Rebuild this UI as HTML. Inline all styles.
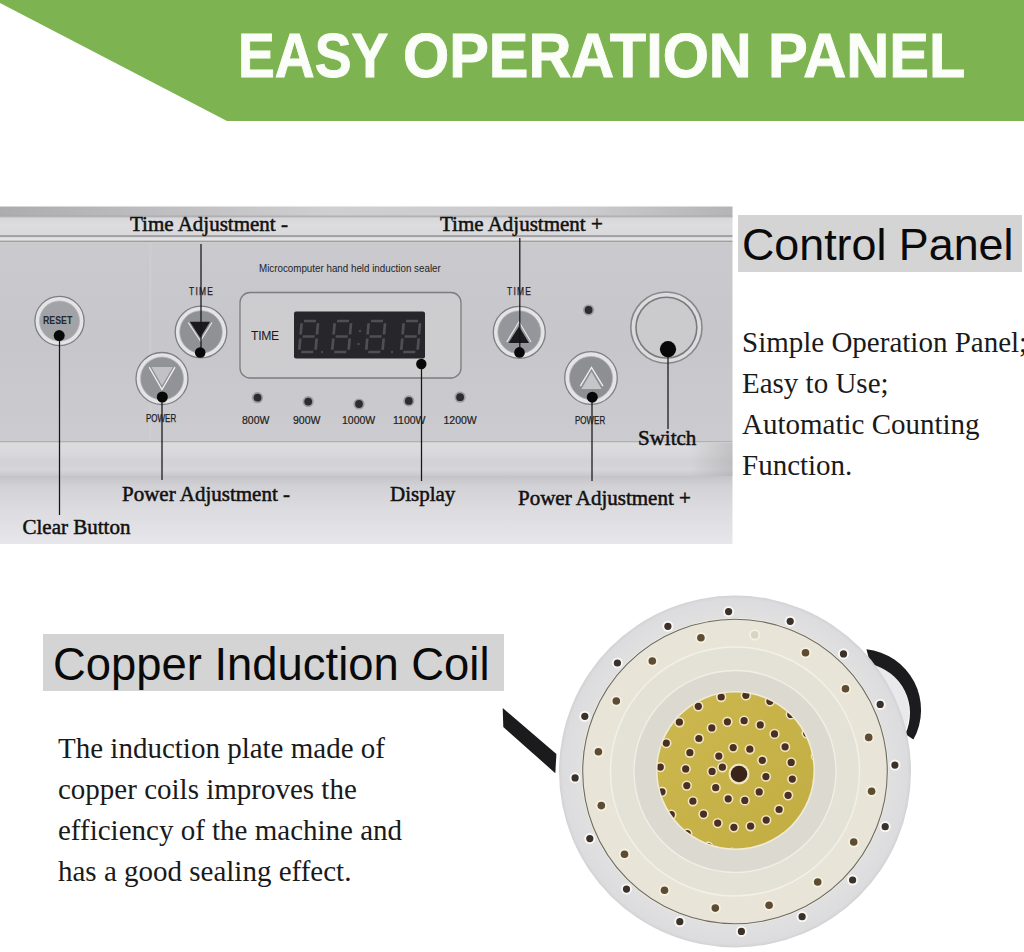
<!DOCTYPE html>
<html><head><meta charset="utf-8">
<style>
html,body{margin:0;padding:0;background:#fff;}
body{width:1024px;height:952px;position:relative;overflow:hidden;}
.a{position:absolute;white-space:nowrap;}
.serif{font-family:"Liberation Serif",serif;color:#111;}
.sans{font-family:"Liberation Sans",sans-serif;}
.lbl{font-size:21px;line-height:21px;-webkit-text-stroke:0.5px #111;}
.body{font-size:29px;line-height:41px;color:#1a1a1a;}
.hbox{background:#d4d4d4;}
.ttl{top:24.2px;font-size:63px;line-height:63px;font-weight:bold;color:#fbfdf8;transform-origin:0 0;-webkit-text-stroke:0.9px #fbfdf8;}
</style></head>
<body>
<!-- green banner -->
<svg class="a" style="left:0;top:0" width="1024" height="125">
  <polygon points="0,0 1024,0 1024,121 227,121 0,3" fill="#7db451"/>
</svg>
<div class="a sans ttl" style="left:237.6px;transform:scaleX(0.877);">EASY</div>
<div class="a sans ttl" style="left:402.6px;transform:scaleX(0.943);">OPERATION</div>
<div class="a sans ttl" style="left:768.2px;transform:scaleX(0.945);">PANEL</div>

<!-- control panel photo -->
<svg class="a" style="left:0;top:0" width="1024" height="560">
  <defs>
    <linearGradient id="gTop" x1="0" y1="0" x2="1" y2="0">
      <stop offset="0" stop-color="#acacae"/><stop offset="0.2" stop-color="#bdbdbf"/><stop offset="0.45" stop-color="#cfcfd1"/><stop offset="0.8" stop-color="#cbcbcd"/><stop offset="1" stop-color="#b4b4b6"/>
    </linearGradient>
    <linearGradient id="gLight" x1="0" y1="0" x2="0" y2="1">
      <stop offset="0" stop-color="#d6d6d8"/><stop offset="0.5" stop-color="#dddddf"/><stop offset="1" stop-color="#d9d9db"/>
    </linearGradient>
    <linearGradient id="gBody" x1="0" y1="0" x2="0" y2="1">
      <stop offset="0" stop-color="#cacace"/><stop offset="0.5" stop-color="#c7c7cb"/><stop offset="1" stop-color="#cccbcf"/>
    </linearGradient>
    <linearGradient id="gStrip" x1="0" y1="0" x2="0" y2="1">
      <stop offset="0" stop-color="#dcdbde"/><stop offset="0.3" stop-color="#d9d8db"/><stop offset="0.55" stop-color="#d2d1d5"/>
      <stop offset="0.8" stop-color="#d6d5d9"/><stop offset="1" stop-color="#c9c8cc"/>
    </linearGradient>
    <linearGradient id="gBase" x1="0" y1="0" x2="0" y2="1">
      <stop offset="0" stop-color="#c4c3c7"/><stop offset="0.15" stop-color="#d2d1d5"/><stop offset="0.5" stop-color="#dcdbdf"/><stop offset="1" stop-color="#e7e6ea"/>
    </linearGradient>
    <g id="seg8" fill="none" stroke="#504f55" stroke-width="2.7">
      <path d="M4,0 H16 M4,15.5 H16 M4,31 H16 M1.8,2.2 V13.5 M1.8,17.5 V28.8 M18.2,2.2 V13.5 M18.2,17.5 V28.8"/>
    </g>
  </defs>
  <rect x="0" y="206.5" width="732.5" height="9.5" fill="url(#gTop)"/>
  <rect x="0" y="216" width="732.5" height="19" fill="url(#gLight)"/>
  <rect x="0" y="215.5" width="732.5" height="1.8" fill="#a8a8aa" opacity="0.8"/>
  <rect x="0" y="235" width="732.5" height="2.5" fill="#a3a3a5"/>
  <rect x="0" y="237.5" width="732.5" height="3" fill="#e2e2e4"/>
  <rect x="0" y="240.5" width="732.5" height="2" fill="#9f9fa1"/>
  <rect x="0" y="242.5" width="732.5" height="198.5" fill="url(#gBody)"/>
  <rect x="149" y="242.5" width="2.5" height="198.5" fill="#d4d4d6" opacity="0.35"/>
  <rect x="0" y="441" width="732.5" height="1.6" fill="#b0afb2"/>
  <rect x="0" y="443" width="732.5" height="33" fill="url(#gStrip)"/>
  <rect x="0" y="476" width="732.5" height="68" fill="url(#gBase)"/>
  <linearGradient id="gEdge" x1="0" y1="0" x2="1" y2="0"><stop offset="0" stop-color="#a8a8aa" stop-opacity="0"/><stop offset="1" stop-color="#a8a8aa" stop-opacity="0.5"/></linearGradient>
  <rect x="690" y="443" width="42.5" height="33" fill="url(#gEdge)"/>

  <!-- display box -->
  <rect x="240" y="292.5" width="221" height="85.5" rx="10" fill="#cdcdcf" stroke="#7c7c7e" stroke-width="1.3"/>
  <rect x="294" y="311.5" width="131" height="47" rx="2" fill="#27262b"/>
  <use href="#seg8" transform="translate(300,321) skewX(-5)"/>
  <use href="#seg8" transform="translate(333,321) skewX(-5)"/>
  <use href="#seg8" transform="translate(367,321) skewX(-5)"/>
  <use href="#seg8" transform="translate(402,321) skewX(-5)"/>
  <g fill="#4a494e"><circle cx="360" cy="331" r="1.3"/><circle cx="358.5" cy="344" r="1.3"/><circle cx="322" cy="352" r="1.2"/><circle cx="392" cy="352" r="1.2"/></g>

  <!-- LEDs -->
  <g><circle cx="257.5" cy="397.7" r="5.6" fill="#76767c" opacity="0.55"/><circle cx="257.5" cy="397.7" r="3.9" fill="#2c2c32"/><circle cx="308.2" cy="401.6" r="5.6" fill="#76767c" opacity="0.55"/><circle cx="308.2" cy="401.6" r="3.9" fill="#2c2c32"/><circle cx="359" cy="404" r="5.6" fill="#76767c" opacity="0.55"/><circle cx="359" cy="404" r="3.9" fill="#2c2c32"/><circle cx="408.8" cy="400.9" r="5.6" fill="#76767c" opacity="0.55"/><circle cx="408.8" cy="400.9" r="3.9" fill="#2c2c32"/><circle cx="460.1" cy="397.2" r="5.6" fill="#76767c" opacity="0.55"/><circle cx="460.1" cy="397.2" r="3.9" fill="#2c2c32"/><circle cx="588.6" cy="310" r="5.6" fill="#76767c" opacity="0.55"/><circle cx="588.6" cy="310" r="3.9" fill="#2c2c32"/></g>

  <!-- buttons -->
  <g stroke="#7f7f82" stroke-width="1.3">
    <circle cx="59.5" cy="321" r="24.6" fill="#e4e4e6"/>
    <circle cx="201" cy="332" r="25.8" fill="#e4e4e6"/>
    <circle cx="162" cy="378.5" r="26" fill="#e4e4e6"/>
    <circle cx="519.3" cy="332.3" r="26" fill="#e4e4e6"/>
    <circle cx="591" cy="378" r="26.3" fill="#e4e4e6"/>
  </g>
  <g stroke="#b5b5b8" stroke-width="0.8">
    <circle cx="59.5" cy="321" r="20" fill="#a2a3a7"/>
    <circle cx="201" cy="332" r="21.3" fill="#909195"/>
    <circle cx="162" cy="378.5" r="21.5" fill="#929397"/>
    <circle cx="519.3" cy="332.3" r="21.5" fill="#95969b"/>
    <circle cx="591" cy="378" r="21.6" fill="#8e8f93"/>
  </g>
  <!-- switch -->
  <circle cx="666.4" cy="327.6" r="35.6" fill="#dcdcde" stroke="#88888b" stroke-width="1.6"/>
  <circle cx="666.4" cy="327.6" r="30.4" fill="#cbcbcd" stroke="#7a7a7d" stroke-width="1.6"/>

  <!-- triangles -->
  <polyline points="188.2,322.5 200.4,341 212,322.5" fill="none" stroke="#e6e6e8" stroke-width="1.2"/>
  <polygon points="189.8,321.8 210,321.8 200.2,337.8" fill="#1b1b1e"/>
  <polygon points="151.5,367 172.8,367 162,385.5" fill="#c2c2c5"/><polyline points="149.2,367.2 162,389.5 175,367.2" fill="none" stroke="#f2f2f4" stroke-width="1.3"/>
  <polyline points="506.8,342 519,321.8 531,342" fill="none" stroke="#e6e6e8" stroke-width="1.2"/>
  <polygon points="519,326.5 508.5,343 529,343" fill="#1b1b1e"/>
  <polygon points="591.5,371.8 581.4,389 601.6,389" fill="#c6c6c8"/><polyline points="580.3,386.2 591.5,367.4 603,386.2" fill="none" stroke="#f2f2f4" stroke-width="1.3"/>

  <!-- annotation lines -->
  <g stroke="#151515" stroke-width="1.25">
    <line x1="59.5" y1="336" x2="59.5" y2="515"/>
    <line x1="201" y1="244" x2="201" y2="352"/>
    <line x1="162" y1="397" x2="162" y2="480"/>
    <line x1="421.5" y1="364" x2="421.5" y2="481"/>
    <line x1="519.8" y1="238" x2="519.8" y2="352"/>
    <line x1="592" y1="397" x2="592" y2="481"/>
    <line x1="668" y1="349" x2="668" y2="429"/>
  </g>
  <g fill="#080808">
    <circle cx="59.2" cy="335.6" r="5.5"/>
    <circle cx="200.2" cy="352.5" r="5.3"/>
    <circle cx="162.3" cy="397" r="5.5"/>
    <circle cx="421.3" cy="364" r="5.2"/>
    <circle cx="519.5" cy="352.4" r="5.3"/>
    <circle cx="592.3" cy="397.2" r="5.5"/>
    <circle cx="668" cy="349.2" r="8.1"/>
  </g>
</svg>
<div class="a sans" style="left:259.3px;top:261.5px;font-size:11px;line-height:12px;color:#232325;transform:scaleX(0.89);transform-origin:0 0;">Microcomputer hand held induction sealer</div>
<div class="a sans" style="left:251px;top:330.2px;font-size:12.2px;line-height:13px;color:#1a1a1c;letter-spacing:-0.3px;">TIME</div>
<div class="a sans" style="left:189px;top:285.5px;font-size:10.5px;line-height:11px;color:#1c1c1e;-webkit-text-stroke:0.25px #1c1c1e;letter-spacing:1.6px;transform:scaleX(0.8);transform-origin:0 0;">TIME</div>
<div class="a sans" style="left:507px;top:286px;font-size:10.5px;line-height:11px;color:#1c1c1e;-webkit-text-stroke:0.25px #1c1c1e;letter-spacing:1.6px;transform:scaleX(0.8);transform-origin:0 0;">TIME</div>
<div class="a sans" style="left:146px;top:413px;font-size:10.5px;line-height:11px;color:#1c1c1e;-webkit-text-stroke:0.25px #1c1c1e;transform:scaleX(0.76);transform-origin:0 0;">POWER</div>
<div class="a sans" style="left:575px;top:414.5px;font-size:10.5px;line-height:11px;color:#1c1c1e;-webkit-text-stroke:0.25px #1c1c1e;transform:scaleX(0.76);transform-origin:0 0;">POWER</div>
<div class="a sans" style="left:43px;top:315px;font-size:11px;line-height:11px;color:#25282e;font-weight:bold;transform:scaleX(0.8);transform-origin:0 0;">RESET</div>
<div class="a sans" style="left:242px;top:415px;font-size:10.5px;line-height:11px;color:#1e1e20;-webkit-text-stroke:0.2px #1e1e20;">800W</div>
<div class="a sans" style="left:293px;top:415px;font-size:10.5px;line-height:11px;color:#1e1e20;-webkit-text-stroke:0.2px #1e1e20;">900W</div>
<div class="a sans" style="left:342px;top:415px;font-size:10.5px;line-height:11px;color:#1e1e20;-webkit-text-stroke:0.2px #1e1e20;">1000W</div>
<div class="a sans" style="left:393px;top:415px;font-size:10.5px;line-height:11px;color:#1e1e20;-webkit-text-stroke:0.2px #1e1e20;">1100W</div>
<div class="a sans" style="left:443.5px;top:415px;font-size:10.5px;line-height:11px;color:#1e1e20;-webkit-text-stroke:0.2px #1e1e20;">1200W</div>

<div class="a serif lbl" style="left:130px;top:214px;">Time Adjustment -</div>
<div class="a serif lbl" style="left:440px;top:214px;">Time Adjustment +</div>
<div class="a serif lbl" style="left:122px;top:484px;">Power Adjustment -</div>
<div class="a serif lbl" style="left:390px;top:483.5px;">Display</div>
<div class="a serif lbl" style="left:518px;top:488px;">Power Adjustment +</div>
<div class="a serif lbl" style="left:22.5px;top:516.5px;">Clear Button</div>
<div class="a serif lbl" style="left:638px;top:427.8px;">Switch</div>

<!-- right text -->
<div class="a hbox" style="left:738px;top:215px;width:284px;height:57px;"></div>
<div class="a sans" style="left:742px;top:218.6px;font-size:44.8px;line-height:50px;color:#0a0a0a;">Control Panel</div>
<div class="a serif body" style="left:742px;top:322px;">Simple Operation Panel;<br>Easy to Use;<br>Automatic Counting<br>Function.</div>

<!-- coil -->
<svg class="a" style="left:0;top:0" width="1024" height="952">
<defs>
<clipPath id="yclip"><circle cx="735.5" cy="770.5" r="78"/></clipPath>
<radialGradient id="gOuter" cx="0.5" cy="0.5" r="0.5">
 <stop offset="0.88" stop-color="#e0e0e1"/><stop offset="0.98" stop-color="#dcdcde"/><stop offset="1" stop-color="#d2d2d4"/>
</radialGradient>
<linearGradient id="gYel" x1="0" y1="0" x2="1" y2="1">
 <stop offset="0" stop-color="#ccb84e"/><stop offset="1" stop-color="#c1ad42"/>
</linearGradient>
</defs>
<circle cx="858" cy="712" r="51" fill="#e9e9eb"/>
<path d="M866.4,649.3 A61,61 0 0 1 913.4,739.6 L905.3,734.1 A50,50 0 0 0 870.4,664.1 Z" fill="#1c1c1e"/>
<polygon points="502.7,707.9 503.3,727 555.3,773.2 556.4,754.1" fill="#1b1b1d"/>
<circle cx="735" cy="771.5" r="176" fill="url(#gOuter)"/>
<circle cx="735" cy="771.5" r="153.5" fill="#f0eee6"/>
<circle cx="735" cy="771.5" r="152.3" fill="#e8e5d8" stroke="#6e6b60" stroke-width="1.1"/>
<circle cx="735" cy="771.5" r="124.5" fill="#e4e2d7" stroke="#f2f0e8" stroke-width="1.4"/>
<circle cx="735" cy="771.5" r="101" fill="#dcdad0" stroke="#f0eee6" stroke-width="1.4"/>
<circle cx="735.5" cy="770.5" r="79.5" fill="#f1ecd8"/>
<circle cx="735.5" cy="770.5" r="78" fill="url(#gYel)"/>
<circle cx="894.9" cy="765.1" r="5.6" fill="#f6f6f6"/><circle cx="894.9" cy="765.1" r="3.6" fill="#3b3129"/>
<circle cx="885.2" cy="826.7" r="5.6" fill="#f6f6f6"/><circle cx="885.2" cy="826.7" r="3.6" fill="#3b3129"/>
<circle cx="852.6" cy="880.0" r="5.6" fill="#f6f6f6"/><circle cx="852.6" cy="880.0" r="3.6" fill="#3b3129"/>
<circle cx="802.1" cy="916.7" r="5.6" fill="#f6f6f6"/><circle cx="802.1" cy="916.7" r="3.6" fill="#3b3129"/>
<circle cx="741.4" cy="931.4" r="5.6" fill="#f6f6f6"/><circle cx="741.4" cy="931.4" r="3.6" fill="#3b3129"/>
<circle cx="679.8" cy="921.7" r="5.6" fill="#f6f6f6"/><circle cx="679.8" cy="921.7" r="3.6" fill="#3b3129"/>
<circle cx="626.5" cy="889.1" r="5.6" fill="#f6f6f6"/><circle cx="626.5" cy="889.1" r="3.6" fill="#3b3129"/>
<circle cx="589.8" cy="838.6" r="5.6" fill="#f6f6f6"/><circle cx="589.8" cy="838.6" r="3.6" fill="#3b3129"/>
<circle cx="575.1" cy="777.9" r="5.6" fill="#f6f6f6"/><circle cx="575.1" cy="777.9" r="3.6" fill="#3b3129"/>
<circle cx="584.8" cy="716.3" r="5.6" fill="#f6f6f6"/><circle cx="584.8" cy="716.3" r="3.6" fill="#3b3129"/>
<circle cx="617.4" cy="663.0" r="5.6" fill="#f6f6f6"/><circle cx="617.4" cy="663.0" r="3.6" fill="#3b3129"/>
<circle cx="667.9" cy="626.3" r="5.6" fill="#f6f6f6"/><circle cx="667.9" cy="626.3" r="3.6" fill="#3b3129"/>
<circle cx="728.6" cy="611.6" r="5.6" fill="#f6f6f6"/><circle cx="728.6" cy="611.6" r="3.6" fill="#3b3129"/>
<circle cx="790.2" cy="621.3" r="5.6" fill="#f6f6f6"/><circle cx="790.2" cy="621.3" r="3.6" fill="#3b3129"/>
<circle cx="843.5" cy="653.9" r="5.6" fill="#f6f6f6"/><circle cx="843.5" cy="653.9" r="3.6" fill="#3b3129"/>
<circle cx="880.2" cy="704.4" r="5.6" fill="#f6f6f6"/><circle cx="880.2" cy="704.4" r="3.6" fill="#3b3129"/>
<circle cx="871.6" cy="791.2" r="5.6" fill="#f4f0e2"/><circle cx="871.6" cy="791.2" r="3.8" fill="#5e4c32"/>
<circle cx="853.7" cy="842.0" r="5.6" fill="#f4f0e2"/><circle cx="853.7" cy="842.0" r="3.8" fill="#5e4c32"/>
<circle cx="817.7" cy="882.0" r="5.6" fill="#f4f0e2"/><circle cx="817.7" cy="882.0" r="3.8" fill="#5e4c32"/>
<circle cx="769.1" cy="905.2" r="5.6" fill="#f4f0e2"/><circle cx="769.1" cy="905.2" r="3.8" fill="#5e4c32"/>
<circle cx="715.3" cy="908.1" r="5.6" fill="#f4f0e2"/><circle cx="715.3" cy="908.1" r="3.8" fill="#5e4c32"/>
<circle cx="664.5" cy="890.2" r="5.6" fill="#f4f0e2"/><circle cx="664.5" cy="890.2" r="3.8" fill="#5e4c32"/>
<circle cx="624.5" cy="854.2" r="5.6" fill="#f4f0e2"/><circle cx="624.5" cy="854.2" r="3.8" fill="#5e4c32"/>
<circle cx="601.3" cy="805.6" r="5.6" fill="#f4f0e2"/><circle cx="601.3" cy="805.6" r="3.8" fill="#5e4c32"/>
<circle cx="598.4" cy="751.8" r="5.6" fill="#f4f0e2"/><circle cx="598.4" cy="751.8" r="3.8" fill="#5e4c32"/>
<circle cx="616.3" cy="701.0" r="5.6" fill="#f4f0e2"/><circle cx="616.3" cy="701.0" r="3.8" fill="#5e4c32"/>
<circle cx="652.3" cy="661.0" r="5.6" fill="#f4f0e2"/><circle cx="652.3" cy="661.0" r="3.8" fill="#5e4c32"/>
<circle cx="700.9" cy="637.8" r="5.6" fill="#f4f0e2"/><circle cx="700.9" cy="637.8" r="3.8" fill="#5e4c32"/>
<circle cx="754.7" cy="634.9" r="5.5" fill="#f4f1e6"/><circle cx="754.7" cy="634.9" r="3.8" fill="#d9d4c2"/>
<circle cx="805.5" cy="652.8" r="5.6" fill="#f4f0e2"/><circle cx="805.5" cy="652.8" r="3.8" fill="#5e4c32"/>
<circle cx="845.5" cy="688.8" r="5.6" fill="#f4f0e2"/><circle cx="845.5" cy="688.8" r="3.8" fill="#5e4c32"/>
<circle cx="868.7" cy="737.4" r="5.6" fill="#f4f0e2"/><circle cx="868.7" cy="737.4" r="3.8" fill="#5e4c32"/>
<circle cx="765.9" cy="776.6" r="5.2" fill="#efe6c4"/><circle cx="765.9" cy="776.6" r="3.6" fill="#4b2f22"/>
<circle cx="759.2" cy="791.9" r="5.2" fill="#efe6c4"/><circle cx="759.2" cy="791.9" r="3.6" fill="#4b2f22"/>
<circle cx="744.8" cy="800.4" r="5.2" fill="#efe6c4"/><circle cx="744.8" cy="800.4" r="3.6" fill="#4b2f22"/>
<circle cx="728.2" cy="798.8" r="5.2" fill="#efe6c4"/><circle cx="728.2" cy="798.8" r="3.6" fill="#4b2f22"/>
<circle cx="715.7" cy="787.7" r="5.2" fill="#efe6c4"/><circle cx="715.7" cy="787.7" r="3.6" fill="#4b2f22"/>
<circle cx="712.1" cy="771.4" r="5.2" fill="#efe6c4"/><circle cx="712.1" cy="771.4" r="3.6" fill="#4b2f22"/>
<circle cx="718.8" cy="756.1" r="5.2" fill="#efe6c4"/><circle cx="718.8" cy="756.1" r="3.6" fill="#4b2f22"/>
<circle cx="733.2" cy="747.6" r="5.2" fill="#efe6c4"/><circle cx="733.2" cy="747.6" r="3.6" fill="#4b2f22"/>
<circle cx="749.8" cy="749.2" r="5.2" fill="#efe6c4"/><circle cx="749.8" cy="749.2" r="3.6" fill="#4b2f22"/>
<circle cx="762.3" cy="760.3" r="5.2" fill="#efe6c4"/><circle cx="762.3" cy="760.3" r="3.6" fill="#4b2f22"/>
<circle cx="722.4" cy="767.2" r="5.2" fill="#efe6c4"/><circle cx="722.4" cy="767.2" r="3.6" fill="#4b2f22"/>
<circle cx="792.3" cy="779.1" r="5.2" fill="#efe6c4"/><circle cx="792.3" cy="779.1" r="3.6" fill="#4b2f22"/>
<circle cx="788.1" cy="795.3" r="5.2" fill="#efe6c4"/><circle cx="788.1" cy="795.3" r="3.6" fill="#4b2f22"/>
<circle cx="779.1" cy="809.5" r="5.2" fill="#efe6c4"/><circle cx="779.1" cy="809.5" r="3.6" fill="#4b2f22"/>
<circle cx="766.2" cy="820.1" r="5.2" fill="#efe6c4"/><circle cx="766.2" cy="820.1" r="3.6" fill="#4b2f22"/>
<circle cx="750.6" cy="826.2" r="5.2" fill="#efe6c4"/><circle cx="750.6" cy="826.2" r="3.6" fill="#4b2f22"/>
<circle cx="733.9" cy="827.3" r="5.2" fill="#efe6c4"/><circle cx="733.9" cy="827.3" r="3.6" fill="#4b2f22"/>
<circle cx="717.7" cy="823.1" r="5.2" fill="#efe6c4"/><circle cx="717.7" cy="823.1" r="3.6" fill="#4b2f22"/>
<circle cx="703.5" cy="814.1" r="5.2" fill="#efe6c4"/><circle cx="703.5" cy="814.1" r="3.6" fill="#4b2f22"/>
<circle cx="692.9" cy="801.2" r="5.2" fill="#efe6c4"/><circle cx="692.9" cy="801.2" r="3.6" fill="#4b2f22"/>
<circle cx="686.8" cy="785.6" r="5.2" fill="#efe6c4"/><circle cx="686.8" cy="785.6" r="3.6" fill="#4b2f22"/>
<circle cx="685.7" cy="768.9" r="5.2" fill="#efe6c4"/><circle cx="685.7" cy="768.9" r="3.6" fill="#4b2f22"/>
<circle cx="689.9" cy="752.7" r="5.2" fill="#efe6c4"/><circle cx="689.9" cy="752.7" r="3.6" fill="#4b2f22"/>
<circle cx="698.9" cy="738.5" r="5.2" fill="#efe6c4"/><circle cx="698.9" cy="738.5" r="3.6" fill="#4b2f22"/>
<circle cx="711.8" cy="727.9" r="5.2" fill="#efe6c4"/><circle cx="711.8" cy="727.9" r="3.6" fill="#4b2f22"/>
<circle cx="727.4" cy="721.8" r="5.2" fill="#efe6c4"/><circle cx="727.4" cy="721.8" r="3.6" fill="#4b2f22"/>
<circle cx="744.1" cy="720.7" r="5.2" fill="#efe6c4"/><circle cx="744.1" cy="720.7" r="3.6" fill="#4b2f22"/>
<circle cx="760.3" cy="724.9" r="5.2" fill="#efe6c4"/><circle cx="760.3" cy="724.9" r="3.6" fill="#4b2f22"/>
<circle cx="774.5" cy="733.9" r="5.2" fill="#efe6c4"/><circle cx="774.5" cy="733.9" r="3.6" fill="#4b2f22"/>
<circle cx="785.1" cy="746.8" r="5.2" fill="#efe6c4"/><circle cx="785.1" cy="746.8" r="3.6" fill="#4b2f22"/>
<circle cx="791.2" cy="762.4" r="5.2" fill="#efe6c4"/><circle cx="791.2" cy="762.4" r="3.6" fill="#4b2f22"/>
<g clip-path="url(#yclip)"><circle cx="817.7" cy="780.9" r="5.2" fill="#efe6c4"/><circle cx="817.7" cy="780.9" r="3.6" fill="#4b2f22"/><circle cx="811.7" cy="804.9" r="5.2" fill="#efe6c4"/><circle cx="811.7" cy="804.9" r="3.6" fill="#4b2f22"/><circle cx="798.6" cy="825.8" r="5.2" fill="#efe6c4"/><circle cx="798.6" cy="825.8" r="3.6" fill="#4b2f22"/><circle cx="779.7" cy="841.7" r="5.2" fill="#efe6c4"/><circle cx="779.7" cy="841.7" r="3.6" fill="#4b2f22"/><circle cx="756.8" cy="851.0" r="5.2" fill="#efe6c4"/><circle cx="756.8" cy="851.0" r="3.6" fill="#4b2f22"/><circle cx="732.1" cy="852.7" r="5.2" fill="#efe6c4"/><circle cx="732.1" cy="852.7" r="3.6" fill="#4b2f22"/><circle cx="708.1" cy="846.7" r="5.2" fill="#efe6c4"/><circle cx="708.1" cy="846.7" r="3.6" fill="#4b2f22"/><circle cx="687.2" cy="833.6" r="5.2" fill="#efe6c4"/><circle cx="687.2" cy="833.6" r="3.6" fill="#4b2f22"/><circle cx="671.3" cy="814.7" r="5.2" fill="#efe6c4"/><circle cx="671.3" cy="814.7" r="3.6" fill="#4b2f22"/><circle cx="662.0" cy="791.8" r="5.2" fill="#efe6c4"/><circle cx="662.0" cy="791.8" r="3.6" fill="#4b2f22"/><circle cx="660.3" cy="767.1" r="5.2" fill="#efe6c4"/><circle cx="660.3" cy="767.1" r="3.6" fill="#4b2f22"/><circle cx="666.3" cy="743.1" r="5.2" fill="#efe6c4"/><circle cx="666.3" cy="743.1" r="3.6" fill="#4b2f22"/><circle cx="679.4" cy="722.2" r="5.2" fill="#efe6c4"/><circle cx="679.4" cy="722.2" r="3.6" fill="#4b2f22"/><circle cx="698.3" cy="706.3" r="5.2" fill="#efe6c4"/><circle cx="698.3" cy="706.3" r="3.6" fill="#4b2f22"/><circle cx="721.2" cy="697.0" r="5.2" fill="#efe6c4"/><circle cx="721.2" cy="697.0" r="3.6" fill="#4b2f22"/><circle cx="745.9" cy="695.3" r="5.2" fill="#efe6c4"/><circle cx="745.9" cy="695.3" r="3.6" fill="#4b2f22"/><circle cx="769.9" cy="701.3" r="5.2" fill="#efe6c4"/><circle cx="769.9" cy="701.3" r="3.6" fill="#4b2f22"/><circle cx="790.8" cy="714.4" r="5.2" fill="#efe6c4"/><circle cx="790.8" cy="714.4" r="3.6" fill="#4b2f22"/><circle cx="806.7" cy="733.3" r="5.2" fill="#efe6c4"/><circle cx="806.7" cy="733.3" r="3.6" fill="#4b2f22"/><circle cx="816.0" cy="756.2" r="5.2" fill="#efe6c4"/><circle cx="816.0" cy="756.2" r="3.6" fill="#4b2f22"/></g>
<circle cx="739.0" cy="774.0" r="10.5" fill="#efe6c4"/><circle cx="739.0" cy="774.0" r="8.3" fill="#3a2418"/>
</svg>
<!-- coil section -->
<div class="a hbox" style="left:43px;top:634px;width:461px;height:57px;"></div>
<div class="a sans" style="left:53px;top:640px;font-size:45.4px;line-height:50px;color:#0a0a0a;">Copper Induction Coil</div>
<div class="a serif body" style="left:58px;top:728px;">The induction plate made of<br>copper coils improves the<br>efficiency of the machine and<br>has a good sealing effect.</div>

</body></html>
